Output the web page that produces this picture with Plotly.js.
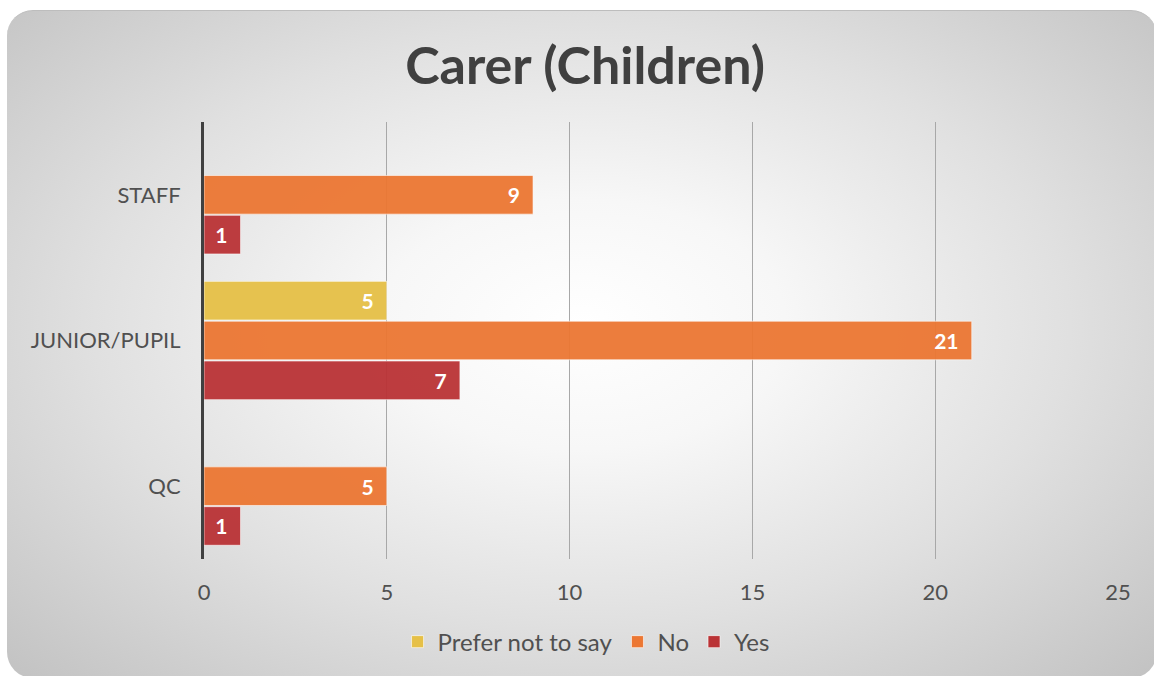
<!DOCTYPE html>
<html>
<head>
<meta charset="utf-8">
<script src="https://cdn.plot.ly/plotly-3.0.1.min.js"></script>
<style>
  html, body { margin: 0; padding: 0; background: #ffffff; overflow: hidden; width: 1154px; height: 676px; }
  #card {
    position: absolute; left: 7px; top: 10px; width: 1150px; height: 667px;
    border-radius: 26px;
    background: radial-gradient(ellipse farthest-corner at 50% 47%, #ffffff 0%, #f7f7f7 25%, #e0e0e0 60%, #c2c2c2 100%);
    border-top: 1px solid #bdbdbd;
  }
  #chart { position: absolute; left: 0; top: 0; width: 1154px; height: 676px; }
</style>
</head>
<body>
<div id="card"></div>
<div id="chart"></div>
<script>
const categories = ['STAFF', 'JUNIOR/PUPIL', 'QC'];
const seriesNames = ['Prefer not to say', 'No', 'Yes'];
const preferNotToSay = [null, 5, null];
const no = [9, 21, 5];
const yes = [1, 7, 1];
const xTicks = [0, 5, 10, 15, 20, 25];
const colors = ['#E6C047', '#EC7733', '#BA3336'];

const FONT = 'Lato, "Noto Sans", sans-serif';
const seriesValues = [preferNotToSay, no, yes];

const traces = seriesValues.map((vals, i) => ({
  type: 'bar',
  orientation: 'h',
  name: seriesNames[i],
  y: categories,
  x: vals,
  marker: { color: colors[i], opacity: 0.95, line: { color: 'rgba(255,255,255,0.6)', width: 1 } },
  texttemplate: '%{x}\u00a0\u00a0',
  textposition: 'inside',
  insidetextanchor: 'end',
  textangle: 0,
  textfont: { color: '#ffffff', size: 21, family: FONT, weight: 'bold' },
  hoverinfo: 'x+name'
}));

const layout = {
  width: 1154,
  height: 676,
  margin: { l: 204, r: 36, t: 122, b: 115 },
  paper_bgcolor: 'rgba(0,0,0,0)',
  plot_bgcolor: 'rgba(0,0,0,0)',
  barmode: 'group',
  bargap: 0.18,
  bargroupgap: 0.03,
  title: {
    text: 'Carer (Children)',
    font: { family: FONT, size: 52, color: '#404040', weight: 'bold' },
    xref: 'container', x: 0.507, xanchor: 'center',
    yref: 'container', y: 0.903, yanchor: 'middle'
  },
  xaxis: {
    range: [0, 25],
    tickvals: xTicks,
    ticktext: xTicks.map(String),
    showgrid: true,
    gridcolor: '#a8a8a8',
    gridwidth: 1,
    zeroline: false,
    showline: false,
    ticks: '',
    ticklabelstandoff: 18,
    tickfont: { family: FONT, size: 22, color: '#505050' },
    fixedrange: true
  },
  yaxis: {
    type: 'category',
    categoryorder: 'array',
    categoryarray: categories,
    autorange: 'reversed',
    showline: true,
    linecolor: '#404040',
    linewidth: 3,
    showgrid: false,
    zeroline: false,
    ticks: '',
    ticklabelstandoff: 16,
    tickfont: { family: FONT, size: 22, color: '#505050' },
    fixedrange: true
  },
  showlegend: true,
  legend: {
    orientation: 'h',
    x: 0.418, xanchor: 'center',
    y: -0.19, yanchor: 'middle',
    font: { family: FONT, size: 24, color: '#505050' },
    bgcolor: 'rgba(0,0,0,0)',
    itemwidth: 30,
    traceorder: 'normal'
  }
};

Plotly.newPlot('chart', traces, layout, { displayModeBar: false, staticPlot: true });
</script>
</body>
</html>
